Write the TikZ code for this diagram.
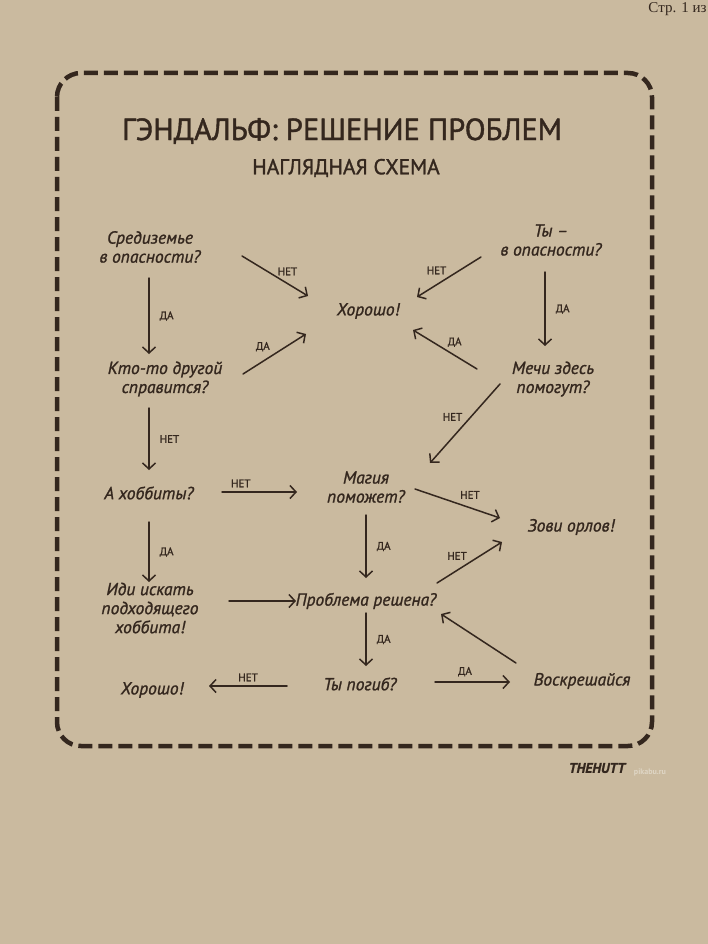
\documentclass[tikz,border=0pt]{standalone}
\usepackage{fontspec}
\setmainfont{PT Sans}
\newfontfamily\pagefont{Liberation Serif}
\newfontfamily\handfont[FakeBold=1.2]{PT Sans}
\newfontfamily\titlefont[FakeBold=1.4]{PT Sans}
\usetikzlibrary{arrows.meta,positioning}
\definecolor{paper}{RGB}{202,186,159}
\definecolor{ink}{RGB}{52,39,30}
\begin{document}
\begin{tikzpicture}[x=1pt,y=-1pt,line join=round,line cap=round,
	hand/.style={text=ink,font=\handfont\fontsize{17.5}{19}\selectfont\itshape,align=center,inner sep=0pt},
	lbl/.style={text=ink,font=\handfont\fontsize{11}{12}\selectfont,inner sep=2pt},
	arr/.style={draw=ink,line width=1.5pt,-{Straight Barb[length=6pt,width=13pt]}}]
	\fill[paper] (0,0) rectangle (708,944);
	\useasboundingbox (0,0) rectangle (708,944);
	\node[anchor=east,text=ink,font=\pagefont\fontsize{15}{16}\selectfont] (page) at (710,9) {Стр. 1 из};
	% frame
	\draw[ink,line width=4.5pt,dash pattern=on 14pt off 6pt,line cap=butt,rounded corners=24pt] (57,73) rectangle (652,746);
	\node[text=ink,font=\titlefont\fontsize{30.5}{32}\selectfont] (title) at (342,131) {ГЭНДАЛЬФ: РЕШЕНИЕ ПРОБЛЕМ};
	\node[text=ink,font=\titlefont\fontsize{21.5}{24}\selectfont] (subtitle) at (346,168) {НАГЛЯДНАЯ СХЕМА};
	% questions
	\node[hand] (sred) at (150,247) {Средиземье\\в опасности?};
	\node[hand] (ok1) at (368,311) {Хорошо!};
	\node[hand] (ty) at (551,240) {Ты –\\в опасности?};
	\node[hand] (kto) at (165,379) {Кто-то другой\\справится?};
	\node[hand] (mechi) at (553,379) {Мечи здесь\\помогут?};
	\node[hand] (hob) at (149,493) {А хоббиты?};
	\node[hand] (magia) at (366,487) {Магия\\поможет?};
	\node[hand] (orly) at (571,527) {Зови орлов!};
	\node[hand] (idi) at (150,608) {Иди искать\\подходящего\\хоббита!};
	\node[hand] (prob) at (366,601) {Проблема решена?};
	\node[hand] (ok2) at (152,690) {Хорошо!};
	\node[hand] (pogib) at (360,684) {Ты погиб?};
	\node[hand] (vosk) at (582,681) {Воскрешайся};
	\node[text=ink,font=\handfont\fontsize{14}{15}\selectfont\bfseries\itshape] (sign) at (597,768) {THEHUTT};
	\node[text=paper!60!white,font=\fontsize{8}{9}\selectfont\bfseries] (wm) at (650,772) {pikabu.ru};
	% arrows
	\draw[arr] ([shift={(92,9)}]sred.center) -- node[lbl,above right=-2pt and 0pt]{НЕТ} ([shift={(-60,-15)}]ok1.center);
	\draw[arr] ([shift={(-1,31)}]sred.center) -- node[lbl,right=8pt]{ДА} ([shift={(-16,-25)}]kto.center);
	\draw[arr] ([shift={(78,-5)}]kto.center) -- node[lbl,above left=0pt and 2pt]{ДА} ([shift={(-62,23)}]ok1.center);
	\draw[arr] ([shift={(-70,17)}]ty.center) -- node[lbl,above left=0pt and 0pt]{НЕТ} ([shift={(49,-14)}]ok1.center);
	\draw[arr] ([shift={(-6,32)}]ty.center) -- node[lbl,right=8pt]{ДА} ([shift={(-8,-33)}]mechi.center);
	\draw[arr] ([shift={(-76,-10)}]mechi.center) -- node[lbl,above right=0pt and 0pt]{ДА} ([shift={(45,19)}]ok1.center);
	\draw[arr] ([shift={(-16,29)}]kto.center) -- node[lbl,right=8pt]{НЕТ} ([shift={(0,-23)}]hob.center);
	\draw[arr] ([shift={(-53,5)}]mechi.center) -- node[lbl,above left=0pt and 0pt]{НЕТ} ([shift={(64,-24)}]magia.center);
	\draw[arr] ([shift={(73,-1)}]hob.center) -- node[lbl,pos=0.25,above=2pt]{НЕТ} ([shift={(-69,5)}]magia.center);
	\draw[arr] ([shift={(49,2)}]magia.center) -- node[lbl,above right=2pt and 0pt]{НЕТ} ([shift={(-71,-9)}]orly.center);
	\draw[arr] ([shift={(0,28)}]magia.center) -- node[lbl,right=8pt]{ДА} ([shift={(0,-23)}]prob.center);
	\draw[arr] ([shift={(0,29)}]hob.center) -- node[lbl,right=8pt]{ДА} ([shift={(-1,-26)}]idi.center);
	\draw[arr] ([shift={(79,-7)}]idi.center) -- ([shift={(-70,0)}]prob.center);
	\draw[arr] ([shift={(71,-18)}]prob.center) -- node[lbl,above left=0pt and 0pt]{НЕТ} ([shift={(-69,15)}]orly.center);
	\draw[arr] ([shift={(0,12)}]prob.center) -- node[lbl,right=8pt]{ДА} ([shift={(6,-18)}]pogib.center);
	\draw[arr] ([shift={(-73,2)}]pogib.center) -- node[lbl,above=2pt]{НЕТ} ([shift={(57,-4)}]ok2.center);
	\draw[arr] ([shift={(75,-2)}]pogib.center) -- node[lbl,pos=0.4,above=3pt]{ДА} ([shift={(-72,1)}]vosk.center);
	\draw[arr] ([shift={(-66,-18)}]vosk.center) -- ([shift={(75,13)}]prob.center);
\end{tikzpicture}
\end{document}
